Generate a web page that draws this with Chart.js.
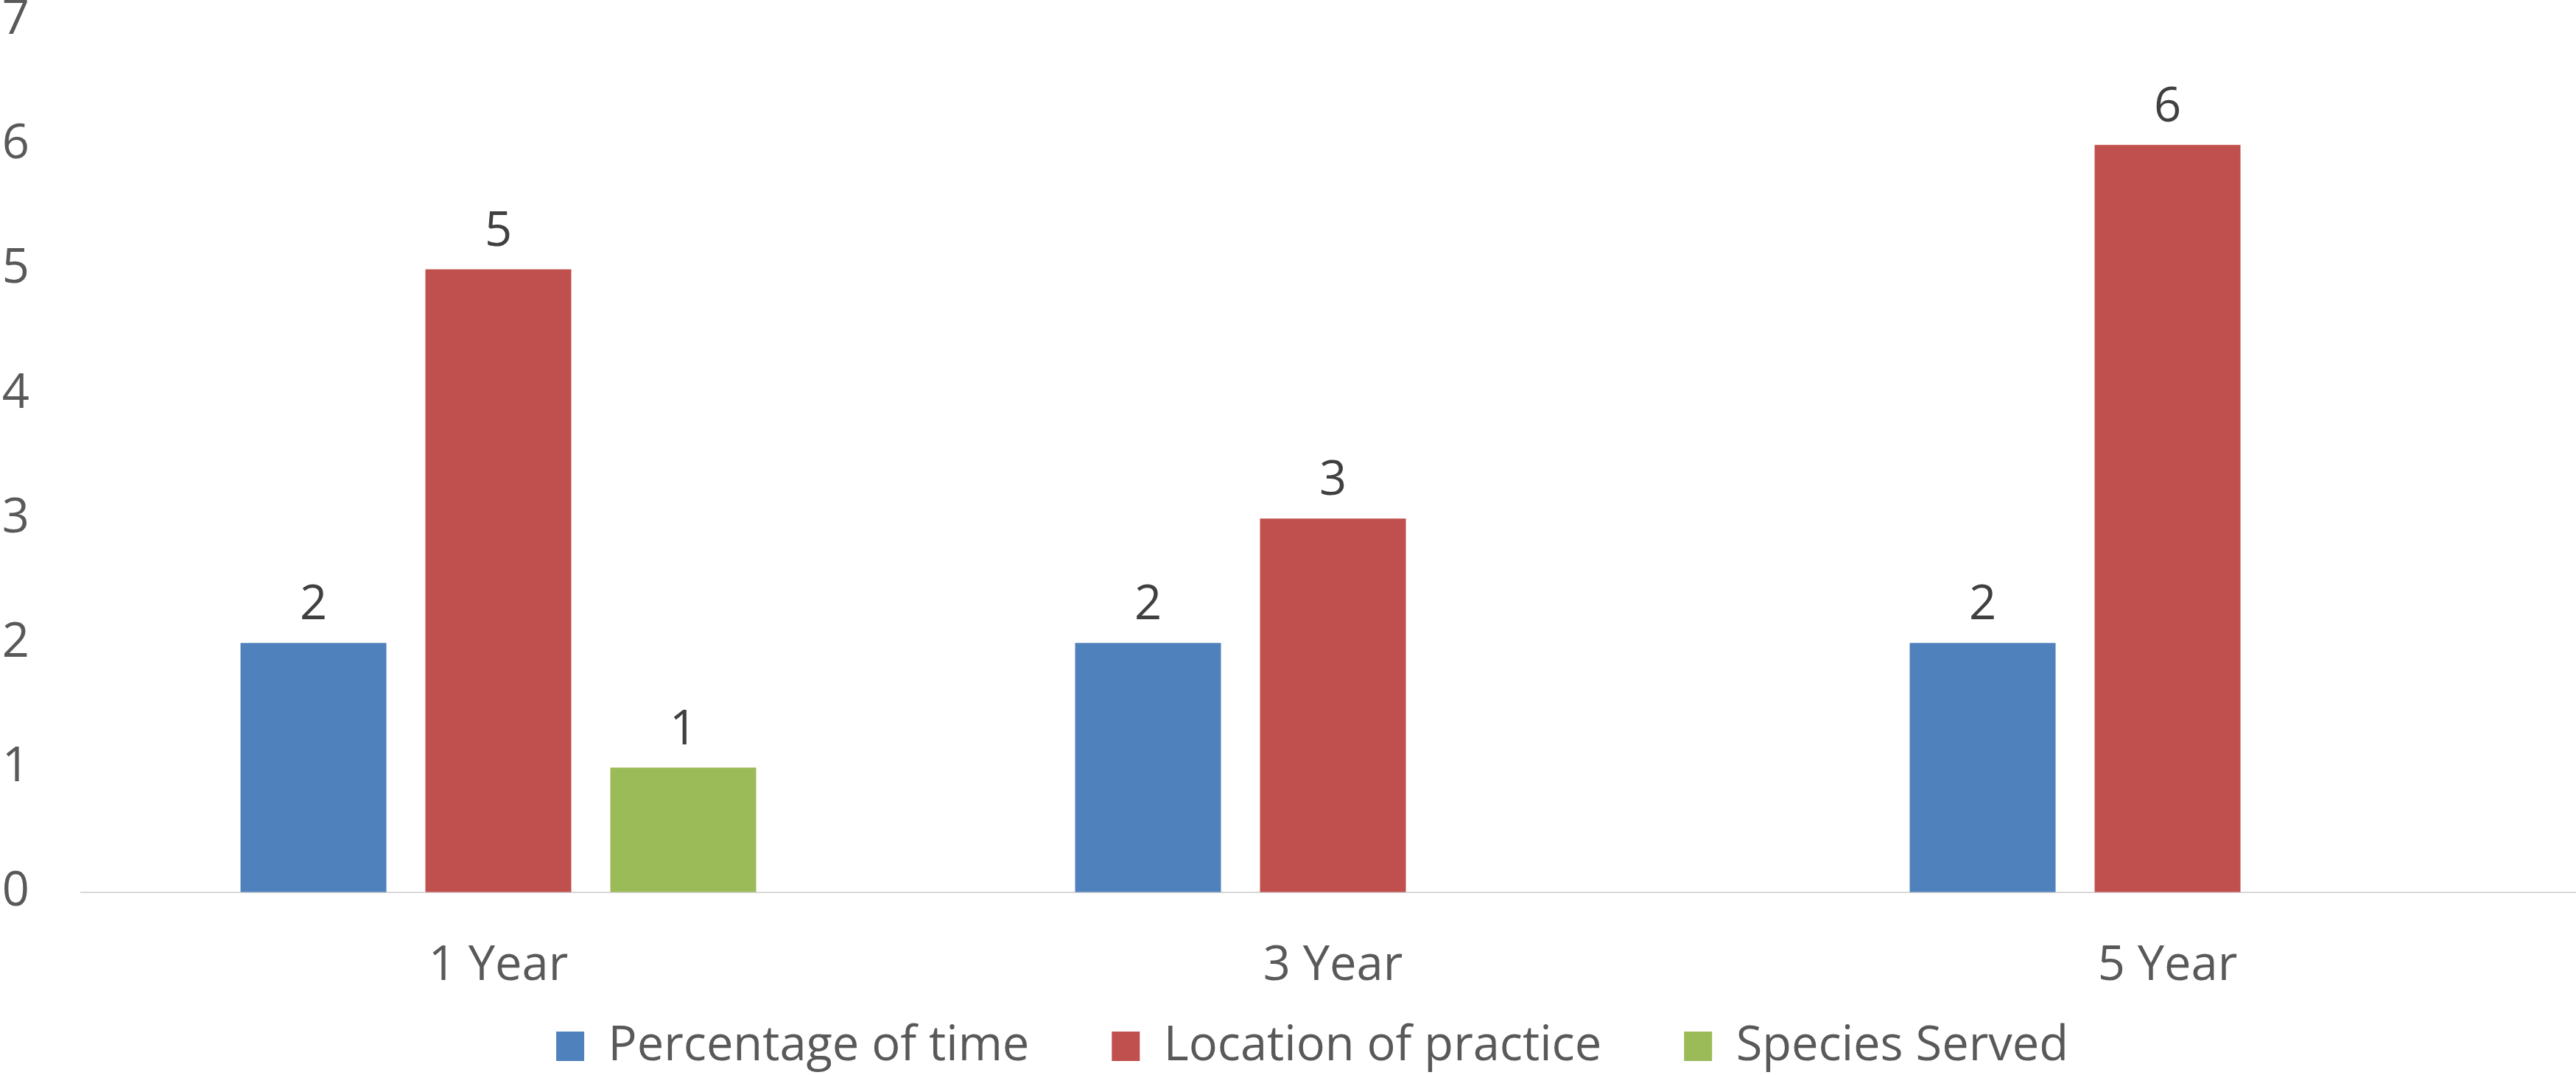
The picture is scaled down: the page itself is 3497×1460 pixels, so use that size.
<!DOCTYPE html>
<html>
<head>
<meta charset="utf-8">
<title>Chart</title>
<script src="https://cdn.jsdelivr.net/npm/chart.js@4.4.1/dist/chart.umd.min.js"></script>
<style>
    html, body { margin: 0; padding: 0; background: #fff; overflow: hidden; }
    #wrap { width: 3512px; height: 1460px; }
</style>
</head>
<body>
<div id="wrap">
    <canvas id="barChart" width="3512" height="1460"></canvas>
</div>
<script>
const categories = ['1 Year', '3 Year', '5 Year'];
const percentageOfTime = [2, 2, 2];
const locationOfPractice = [5, 3, 6];
const speciesServed = [1, null, null];
const yTicks = [0, 1, 2, 3, 4, 5, 6, 7];

const FONT = '"Open Sans", "Noto Sans", sans-serif';
const LEGEND_PAD = 112;

// value labels above every bar (no datalabels plugin offline)
const valueLabels = {
    id: 'valueLabels',
    afterDatasetsDraw(chart) {
        const ctx = chart.ctx;
        ctx.save();
        ctx.font = '65px ' + FONT;
        ctx.fillStyle = '#404040';
        ctx.textAlign = 'center';
        ctx.textBaseline = 'alphabetic';
        chart.data.datasets.forEach(function (ds, i) {
            chart.getDatasetMeta(i).data.forEach(function (bar, j) {
                if (ds.data[j] == null) return;
                ctx.fillText(String(ds.data[j]), bar.x, bar.y - 32);
            });
        });
        ctx.restore();
    }
};

// legend: fixed height, then move the row to where the reference has it
const legendBox = {
    id: 'legendBox',
    beforeLayout(chart) {
        const lg = chart.legend;
        if (lg && !lg._fixed) {
            const fit = lg.fit.bind(lg);
            lg.fit = function () {
                fit();
                this.height = 108.3;
            };
            lg._fixed = true;
        }
    },
    afterLayout(chart) {
        const lg = chart.legend;
        if (!lg) return;
        lg.left = 54;
        lg.top = 1421 - LEGEND_PAD - 32.5;
        lg.bottom = chart.height;
    }
};

var barCanvas = document.getElementById('barChart').getContext('2d');
var barData = {
    labels: categories,
    datasets: [
        { label: 'Percentage of time', data: percentageOfTime, backgroundColor: '#4F81BD' },
        { label: 'Location of practice', data: locationOfPractice, backgroundColor: '#C0504D' },
        { label: 'Species Served', data: speciesServed, backgroundColor: '#9BBB59' }
    ]
};

var barChart = new Chart(barCanvas, {
    type: 'bar',
    data: barData,
    plugins: [valueLabels, legendBox],
    options: {
        responsive: false,
        animation: false,
        layout: { padding: { left: 0, top: 27.5, right: 3, bottom: 0 } },
        datasets: {
            bar: { categoryPercentage: 0.6646, barPercentage: 0.789, borderWidth: 0 }
        },
        scales: {
            x: {
                grid: { display: false, drawTicks: false },
                border: { display: true, color: '#D9D9D9', width: 2 },
                ticks: { color: '#595959', font: { family: FONT, size: 65 }, padding: 62 },
                afterFit: function (s) {
                    s.height = 140;
                    s.paddingLeft = 0;
                    s.paddingRight = 0;
                }
            },
            y: {
                min: 0,
                max: 7,
                grid: { display: false, drawTicks: false },
                border: { display: false },
                afterBuildTicks: function (s) {
                    s.ticks = yTicks.map(v => ({ value: v }));
                },
                ticks: { color: '#595959', font: { family: FONT, size: 65 }, padding: 70 },
                afterFit: function (s) {
                    s.width = 110;
                    s.paddingTop = 0;
                    s.paddingBottom = 0;
                }
            }
        },
        plugins: {
            tooltip: { enabled: false },
            legend: {
                display: true,
                position: 'bottom',
                labels: {
                    color: '#595959',
                    font: { family: FONT, size: 65 },
                    boxWidth: 38,
                    boxHeight: 40,
                    padding: LEGEND_PAD
                }
            }
        }
    }
});
</script>
</body>
</html>
